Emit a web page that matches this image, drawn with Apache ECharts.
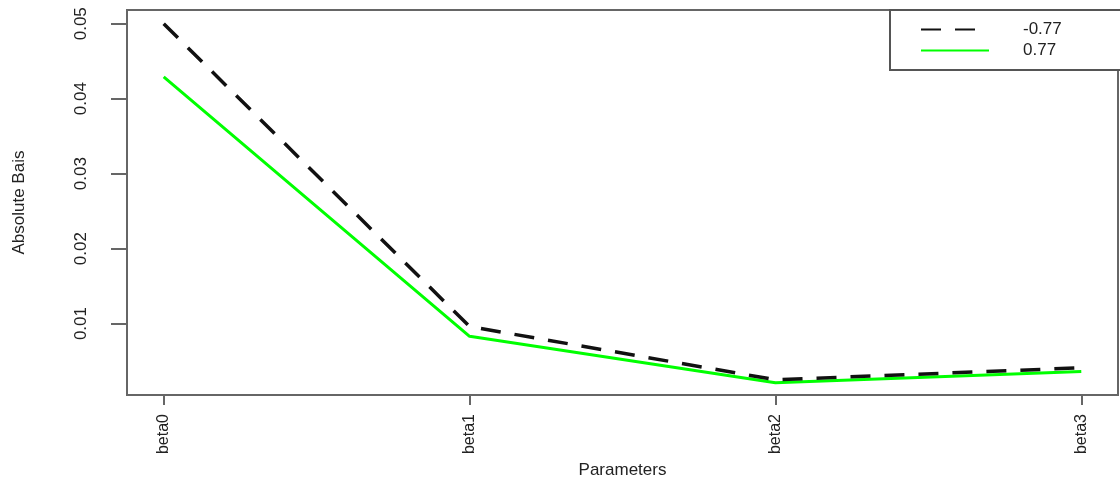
<!DOCTYPE html>
<html>
<head>
<meta charset="utf-8">
<script src="https://cdn.jsdelivr.net/npm/echarts@6/dist/echarts.min.js"></script>
<style>
html,body{margin:0;padding:0;background:#fff;}
#chart{width:1120px;height:484px;}
</style>
</head>
<body>
<div id="chart"></div>
<script>
const categories = ['beta0', 'beta1', 'beta2', 'beta3'];
const seriesNames = ['-0.77', '0.77'];
const negValues = [0.0500, 0.0096, 0.0025, 0.0041];
const posValues = [0.0429, 0.0083, 0.0021, 0.0036];
const yTicks = [0.01, 0.02, 0.03, 0.04, 0.05];

const toPoints = vals => vals.map((v, i) => [i, v]);
const xIdx = categories.map((c, i) => i);

const chart = echarts.init(document.getElementById('chart'));
const font = 'Liberation Sans, Arial, sans-serif';
chart.setOption({
  animation: false,
  backgroundColor: '#fff',
  grid: {
    left: 127, right: 2, top: 10, bottom: 81,
    show: true, borderColor: '#666', borderWidth: 2, backgroundColor: '#fff'
  },
  legend: {
    orient: 'vertical',
    left: 890, top: 10,
    padding: [11, 60, 11, 30],
    borderColor: '#555', borderWidth: 2,
    backgroundColor: '#fff',
    itemWidth: 68, itemHeight: 14, itemGap: 4,
    itemStyle: { opacity: 0 },
    textStyle: { fontFamily: font, fontSize: 17, color: '#222', lineHeight: 17, padding: [0, 0, 0, 29] },
    data: seriesNames
  },
  xAxis: {
    type: 'value',
    min: -0.12, max: 3.12,
    name: 'Parameters',
    nameLocation: 'middle',
    nameGap: 64,
    nameTextStyle: { fontFamily: font, fontSize: 17, color: '#222' },
    axisLine: { show: false, onZero: false },
    splitLine: { show: false },
    axisTick: { show: true, customValues: xIdx, length: 10, lineStyle: { color: '#666', width: 2 } },
    axisLabel: {
      customValues: xIdx,
      rotate: 90, margin: 19,
      fontFamily: font, fontSize: 16, color: '#222',
      formatter: v => categories[Math.round(v)]
    }
  },
  yAxis: {
    type: 'value',
    min: 0.00046, max: 0.05183,
    name: 'Absolute Bais',
    nameLocation: 'middle',
    nameRotate: 90,
    nameGap: 99,
    nameTextStyle: { fontFamily: font, fontSize: 17, color: '#222' },
    axisLine: { show: false, onZero: false },
    splitLine: { show: false },
    axisTick: { show: true, customValues: yTicks, length: 16, lineStyle: { color: '#666', width: 2 } },
    axisLabel: {
      customValues: yTicks,
      rotate: 90, margin: 37,
      fontFamily: font, fontSize: 17, color: '#222',
      formatter: v => v.toFixed(2)
    }
  },
  series: [
    {
      name: seriesNames[0], type: 'line', symbol: 'none', z: 3,
      lineStyle: { color: '#111', width: 3.5, type: [20, 14] },
      itemStyle: { color: '#111' },
      data: toPoints(negValues)
    },
    {
      name: seriesNames[1], type: 'line', symbol: 'none', z: 2,
      lineStyle: { color: '#00ff00', width: 3 },
      itemStyle: { color: '#00ff00' },
      data: toPoints(posValues)
    }
  ]
});
</script>
</body>
</html>
